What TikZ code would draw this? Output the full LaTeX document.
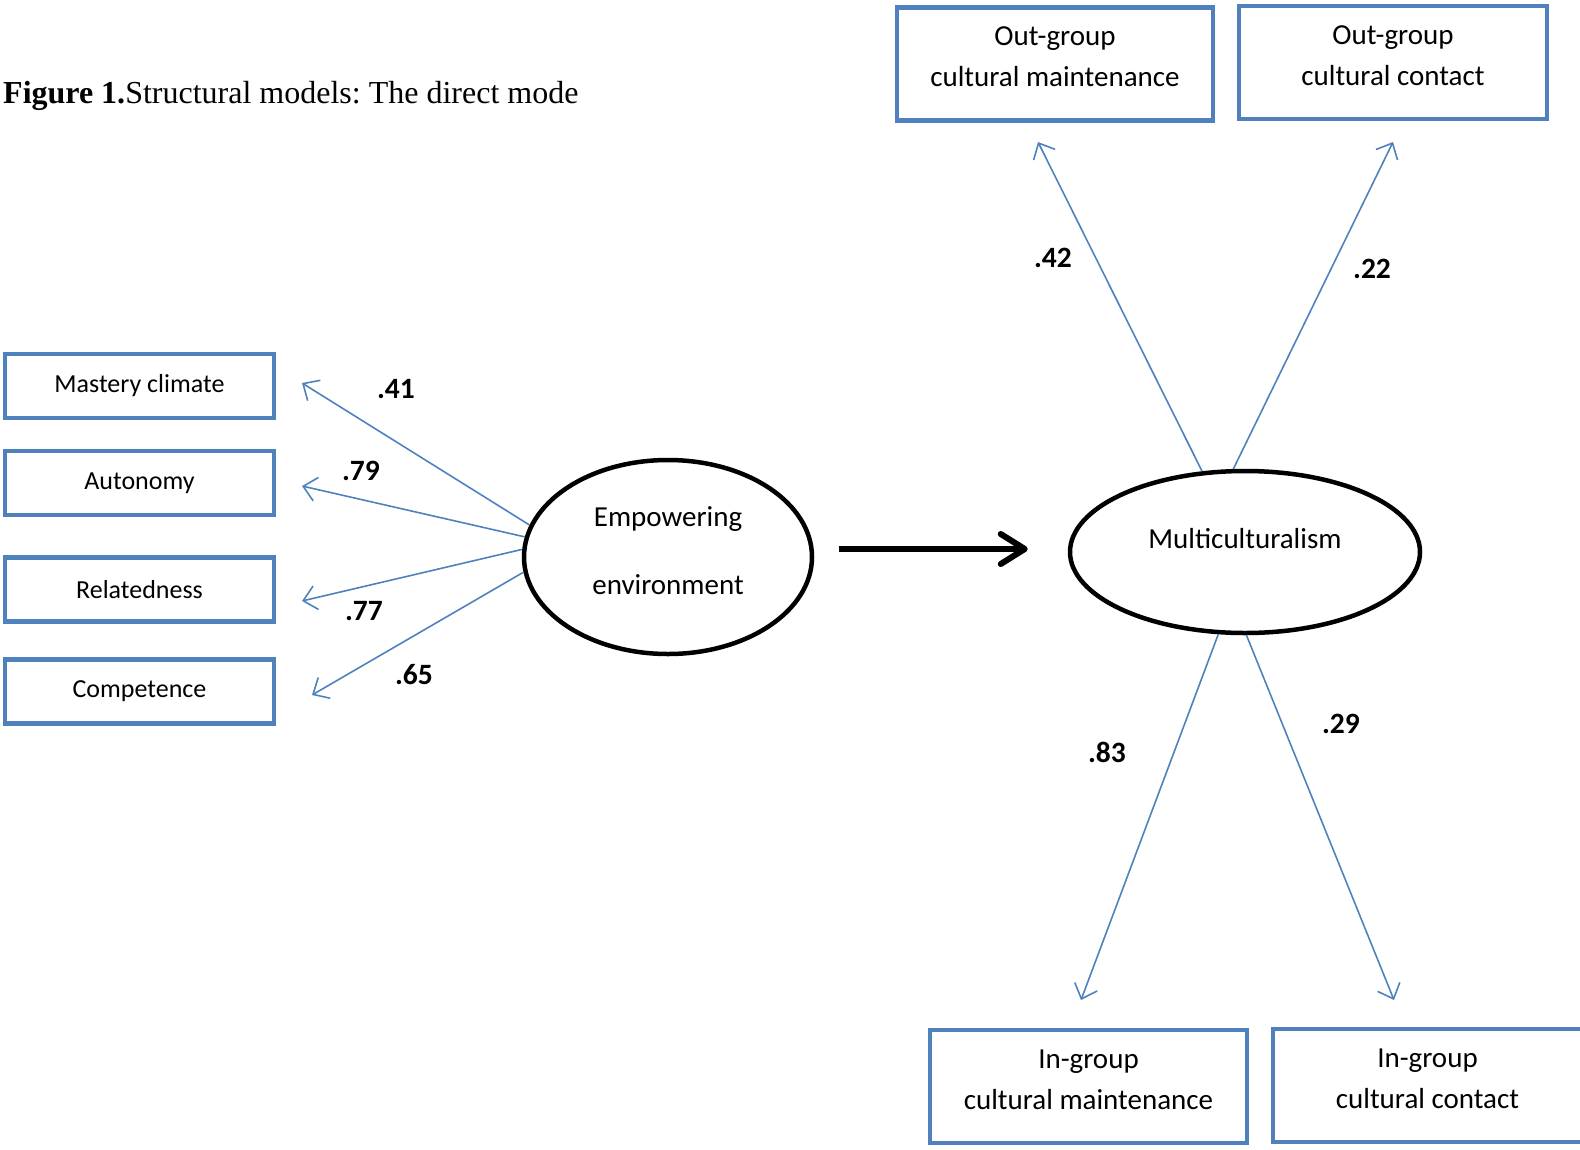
\documentclass[tikz,border=0pt]{standalone}
\usepackage{fontspec}
\setmainfont{Carlito}
\newfontfamily\titlefont{Liberation Serif}
\usetikzlibrary{arrows.meta,shapes.geometric}
\definecolor{boxblue}{HTML}{4F81BD}
\frenchspacing

\begin{document}
\begin{tikzpicture}[x=1pt, y=-1pt,
    indic/.style={draw=boxblue, line width=4.5pt, minimum width=269pt,
      minimum height=64pt, inner sep=0pt, font=\fontsize{26}{30}\selectfont},
    group/.style={draw=boxblue, line width=4.5pt, minimum height=113pt,
      inner sep=0pt, align=center, text depth=14pt,
      font=\fontsize{29}{41}\selectfont},
    latent/.style={draw, ellipse, line width=4.5pt, inner sep=0pt,
      align=center, font=\fontsize{29}{68}\selectfont},
    load/.style={draw=boxblue, line width=1.6pt,
      -{Straight Barb[length=13pt,width=24pt]}},
    coef/.style={inner sep=0pt, font=\fontsize{29.5}{30}\selectfont\bfseries}]
    \useasboundingbox (0,0) rectangle (1580,1149);

    \node[anchor=west, inner sep=0pt, font=\titlefont\fontsize{32}{36}\selectfont]
      (title) at (3,96) {\textbf{Figure 1.}Structural models: The direct mode};

    % indicators of the empowering environment
    \node[indic] (mc) at (139.5,386) {Mastery climate};
    \node[indic] (au) at (139.5,483) {Autonomy};
    \node[indic] (re) at (139.5,589.5) {Relatedness};
    \node[indic] (co) at (139.5,691.5) {Competence};

    % latent variables
    \node[latent, minimum width=288pt, minimum height=194pt, text depth=12pt]
      (emp) at (668,557) {Empowering\\environment};
    \node[latent, minimum width=350pt, minimum height=162pt, text depth=28pt]
      (mu) at (1245,552) {Multiculturalism};

    % indicators of multiculturalism
    \node[group, minimum width=316pt] (om) at (1055,64) {Out-group\\cultural maintenance};
    \node[group, minimum width=308pt] (oc) at (1393,62.5) {Out-group\\cultural contact};
    \node[group, minimum width=317pt] (im) at (1088.5,1086.5) {In-group\\cultural maintenance};
    \node[group, minimum width=309pt] (ic) at (1427.5,1085.5) {In-group\\cultural contact};

    \coordinate (t41) at (302,383);
    \coordinate (t79) at (302,486);
    \coordinate (t77) at (302,601);
    \coordinate (t65) at (312,695);
    \coordinate (t42) at (1038,142);
    \coordinate (t22) at (1393,142);
    \coordinate (t83) at (1081,1000);
    \coordinate (t29) at (1394,1000);

    \draw[load] (emp.167) -- (t41);
    \draw[load] (emp.172.5) -- (t79);
    \draw[load] (emp.177.3) -- (t77);
    \draw[load] (emp.186.8) -- (t65);
    \draw[load] (mu.118) -- (t42);
    \draw[load] (mu.98) -- (t22);
    \draw[load] (mu.252) -- (t83);
    \draw[load] (mu.271) -- (t29);

    \draw[line width=6pt, shorten <=25pt, shorten >=40pt,
      -{Straight Barb[length=24pt,width=30pt,round]}]
      ([yshift=8pt]emp.east) -- ([yshift=3pt]mu.west);

    \node[coef] (c41) at (396,389) {.41};
    \node[coef] (c79) at (361,471) {.79};
    \node[coef] (c77) at (364,611) {.77};
    \node[coef] (c65) at (414,675) {.65};
    \node[coef] (c42) at (1053,258) {.42};
    \node[coef] (c22) at (1372,269) {.22};
    \node[coef] (c83) at (1107,752) {.83};
    \node[coef] (c29) at (1341,724) {.29};
\end{tikzpicture}
\end{document}
